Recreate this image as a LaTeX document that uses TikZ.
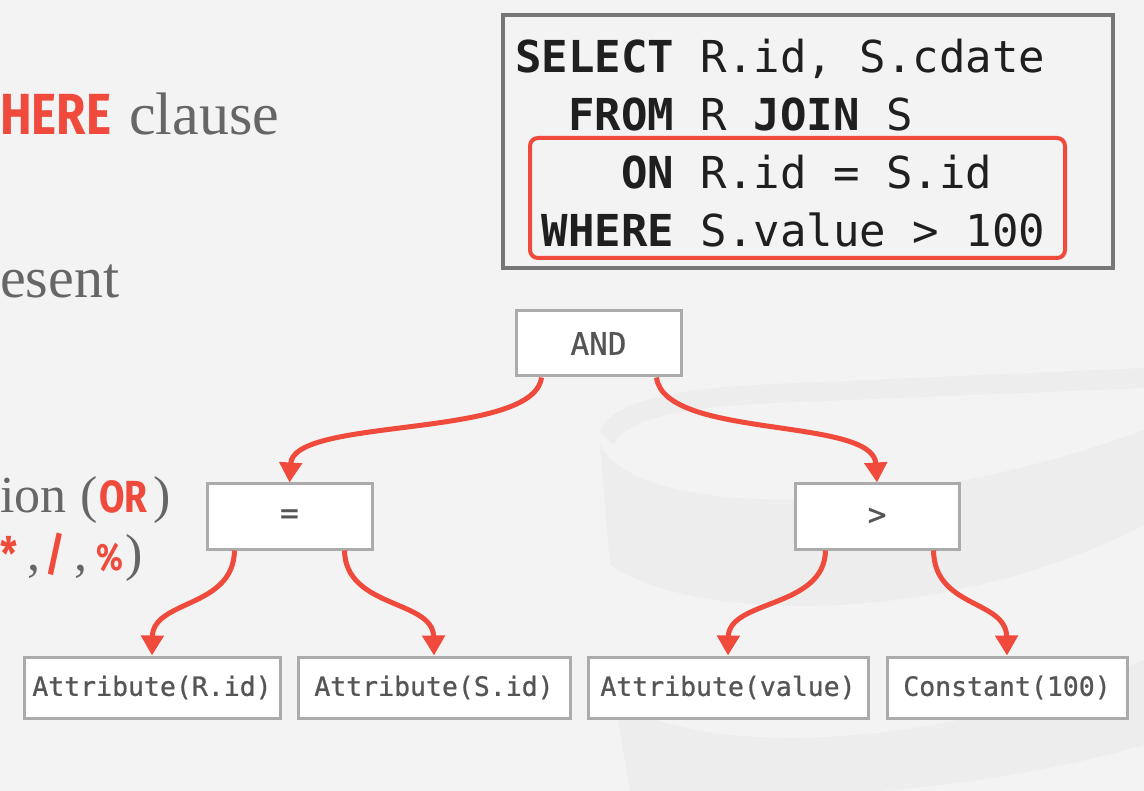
\documentclass[tikz,border=0pt]{standalone}
\usepackage{fontspec}
\setmainfont{Liberation Serif}
\setmonofont{DejaVu Sans Mono}
\newfontfamily\kwfont[FakeStretch=0.82]{Fira Sans}
\newfontfamily\treefont[FakeBold=0.8]{DejaVu Sans Mono}
\usetikzlibrary{arrows.meta}
\definecolor{bg}{HTML}{F3F3F3}
\definecolor{wm}{HTML}{EDEDED}
\definecolor{slred}{HTML}{EF4A3C}
\definecolor{boxgray}{HTML}{ABABAB}
\definecolor{sqlgray}{HTML}{767676}
\definecolor{txtgray}{HTML}{555555}
\definecolor{serifgray}{HTML}{666666}
\begin{document}
\begin{tikzpicture}[x=1pt,y=-1pt,
  treebox/.style={draw=boxgray, line width=3pt, fill=white, inner sep=0pt,
    text=txtgray, font=\fontsize{31}{31}\selectfont\treefont},
  leafbox/.style={treebox, font=\fontsize{26.5}{26.5}\selectfont\treefont},
  edge/.style={draw=slred, line width=5pt, -{Triangle[width=22pt,length=20pt]}},
  sqlline/.style={anchor=base west, inner sep=0pt, text=black!88,
    font=\fontsize{44}{44}\selectfont\ttfamily},
  kwtext/.style={anchor=base west, inner sep=0pt, text=slred},
  serif/.style={anchor=base west, inner sep=0pt, text=serifgray}
]
\useasboundingbox (0,0) rectangle (1144,791);
\fill[bg] (0,0) rectangle (1144,791);

% faint watermark
\fill[wm] (600,432) .. controls (612,396) and (700,386) .. (800,383) -- (1144,368)
  -- (1144,388) -- (800,402) .. controls (705,405) and (626,414) .. (614,445) -- cycle;
\fill[wm] (600,445) .. controls (640,520) and (900,520) .. (1144,430)
  -- (1144,525) .. controls (950,625) and (700,625) .. (610,565) -- cycle;
\fill[wm] (615,700) .. controls (700,760) and (950,750) .. (1144,660)
  -- (1144,745) .. controls (950,800) and (760,800) .. (645,791) -- (630,791) -- cycle;

% left slide text (cut off in the reference)
\node[kwtext, font=\fontsize{58}{58}\selectfont\kwfont\bfseries] (kwhere) at (0,135) {HERE};
\node[serif, font=\fontsize{60}{60}\selectfont] (clause) at (129,135) {clause};
\node[serif, font=\fontsize{58}{58}\selectfont] (esent) at (0,298) {esent};
\node[serif, font=\fontsize{52}{52}\selectfont] (ion) at (0,513) {ion};
\node[serif, font=\fontsize{52}{52}\selectfont] (lpar) at (80,513) {(};
\node[kwtext, font=\fontsize{45}{45}\selectfont\kwfont\bfseries] (kwor) at (99,513) {OR};
\node[serif, font=\fontsize{52}{52}\selectfont] (rpar) at (153,513) {)};
\node[kwtext, font=\fontsize{46}{46}\selectfont\kwfont\bfseries] (star) at (0,570) {*};
\node[serif, font=\fontsize{52}{52}\selectfont] (c1) at (27,570) {,};
\node[kwtext, font=\fontsize{46}{46}\selectfont\kwfont\bfseries] (slash) at (45,570) {/};
\node[serif, font=\fontsize{52}{52}\selectfont] (c2) at (74,570) {,};
\node[kwtext, font=\fontsize{38}{38}\selectfont\kwfont\bfseries] (pct) at (96,570) {\%};
\node[serif, font=\fontsize{52}{52}\selectfont] (rpar2) at (125,570) {)};

% SQL box
\draw[draw=sqlgray, line width=4pt, fill=bg] (503,15) rectangle (1113,268);
\node[sqlline] (q1) at (515,73) {\textbf{SELECT} R.id, S.cdate};
\node[sqlline] (q2) at (515,131) {\phantom{SE}\textbf{FROM} R \textbf{JOIN} S};
\node[sqlline] (q3) at (515,189) {\phantom{SELE}\textbf{ON} R.id = S.id};
\node[sqlline] (q4) at (515,247) {\phantom{S}\textbf{WHERE} S.value > 100};
\draw[draw=slred, line width=4pt, rounded corners=8pt] (530,138) rectangle (1065,258);

% tree nodes
\node[treebox, minimum width=165pt, minimum height=65pt] (and) at (598.5,343.5) {AND};
\node[treebox, minimum width=165pt, minimum height=65pt] (eq) at (289.5,516.5) {=};
\node[treebox, minimum width=164pt, minimum height=65pt] (gt) at (877,516.5) {>};
\node[leafbox, minimum width=256pt, minimum height=61pt] (ar) at (152,687.5) {Attribute(R.id)};
\node[leafbox, minimum width=272pt, minimum height=61pt] (as) at (434,687.5) {Attribute(S.id)};
\node[leafbox, minimum width=280pt, minimum height=61pt] (av) at (728,687.5) {Attribute(value)};
\node[leafbox, minimum width=240pt, minimum height=61pt] (cc) at (1007,687.5) {Constant(100)};

% edges
\draw[edge] ([xshift=27pt]and.south west) .. controls +(-8,62) and +(4,-66) .. (eq.north);
\draw[edge] ([xshift=-26pt]and.south east) .. controls +(8,62) and +(-4,-66) .. (gt.north);
\draw[edge] ([xshift=29pt]eq.south west) .. controls +(-1,58) and +(1,-56) .. (ar.north);
\draw[edge] ([xshift=-29pt]eq.south east) .. controls +(1,58) and +(-1,-56) .. (as.north);
\draw[edge] ([xshift=32pt]gt.south west) .. controls +(-1,58) and +(1,-56) .. (av.north);
\draw[edge] ([xshift=-27pt]gt.south east) .. controls +(1,58) and +(-1,-56) .. (cc.north);
\end{tikzpicture}
\end{document}
